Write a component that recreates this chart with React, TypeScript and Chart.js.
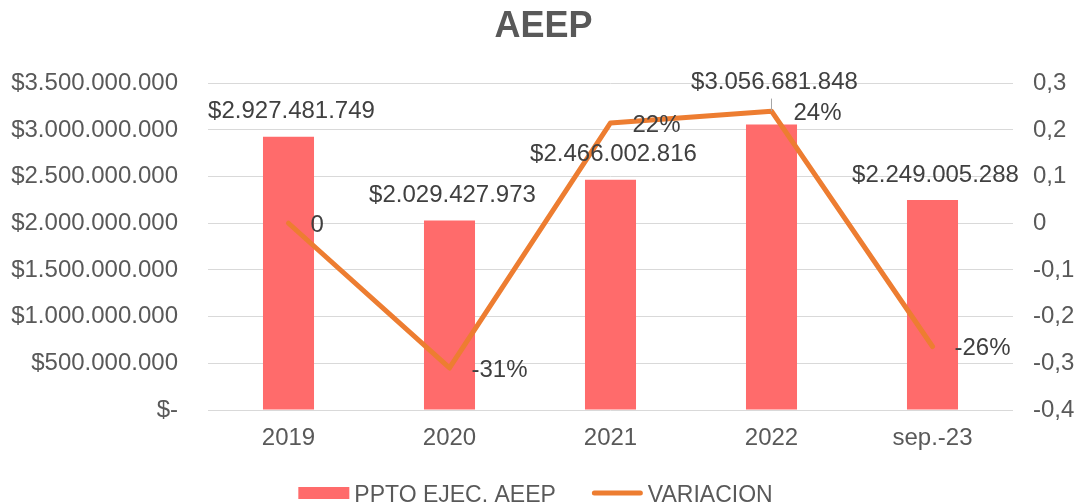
import React, { useEffect, useRef } from "react";
import { Chart, registerables } from "chart.js";

Chart.register(...registerables);

// ---- data ----
const chartTitle = "AEEP";
const categories = ["2019", "2020", "2021", "2022", "sep.-23"];
const seriesNames = ["PPTO EJEC. AEEP", "VARIACION"];
const budgetValues = [2927481749, 2029427973, 2466002816, 3056681848, 2249005288];
const variationValues = [0, -0.31, 0.215, 0.24, -0.264];

// ---- styles ----
const FONT = "'Liberation Sans', Arial, Helvetica, sans-serif";
const FS = 24;
const LEGEND_FS = 23;
const BAR_COLOR = "#FF6B6B";
const LINE_COLOR = "#ED7D31";
const TEXT_COLOR = "#595959";
const LABEL_COLOR = "#404040";
const GRID_COLOR = "#D9D9D9";
const LIFTED_LABEL = { index: 3, extra: 17 };

function groupThousands(n: number): string {
  return Math.round(n).toString().replace(/\B(?=(\d{3})+(?!\d))/g, ".");
}
function money(n: number): string {
  return n === 0 ? "$-" : "$" + groupThousands(n);
}
function decimalComma(v: number): string {
  const r = Math.round(v * 10) / 10;
  return r === 0 ? "0" : r.toFixed(1).replace(".", ",");
}
function pct(v: number): string {
  return v === 0 ? "0" : Math.round(v * 100) + "%";
}

const dataLabelPlugin = {
  id: "dataLabels",
  afterDatasetsDraw(chart: any) {
    const ctx = chart.ctx as CanvasRenderingContext2D;
    const barMeta = chart.getDatasetMeta(0);
    const lineMeta = chart.getDatasetMeta(1);
    ctx.save();
    ctx.font = `${FS}px ${FONT}`;
    ctx.fillStyle = LABEL_COLOR;
    ctx.textBaseline = "middle";
    barMeta.data.forEach((bar: any, i: number) => {
      const lifted = i === LIFTED_LABEL.index;
      const y = bar.y - 25 - (lifted ? LIFTED_LABEL.extra : 0);
      ctx.textAlign = "center";
      ctx.fillText(money(budgetValues[i]), bar.x + 3, y);
      if (lifted) {
        const pt = lineMeta.data[i];
        ctx.strokeStyle = "#A6A6A6";
        ctx.lineWidth = 1;
        ctx.beginPath();
        ctx.moveTo(bar.x, y + 16);
        ctx.lineTo(bar.x, pt.y);
        ctx.stroke();
      }
    });
    lineMeta.data.forEach((pt: any, i: number) => {
      ctx.textAlign = "left";
      ctx.fillText(pct(variationValues[i]), pt.x + 22, pt.y + 2);
    });
    ctx.restore();
  },
};

const legendPlugin = {
  id: "bottomLegend",
  afterDraw(chart: any) {
    const ctx = chart.ctx as CanvasRenderingContext2D;
    ctx.save();
    ctx.font = `${LEGEND_FS}px ${FONT}`;
    const boxW = 51;
    const gapText = 5;
    const gapItems = 36;
    const w0 = ctx.measureText(seriesNames[0]).width;
    const w1 = ctx.measureText(seriesNames[1]).width;
    const total = boxW + gapText + w0 + gapItems + boxW + gapText + w1;
    let x = chart.width / 2 - total / 2 - 8;
    const cy = chart.height - 11;
    const baseline = chart.height - 2;
    ctx.fillStyle = BAR_COLOR;
    ctx.fillRect(x, cy - 6, boxW, 12);
    x += boxW + gapText;
    ctx.fillStyle = TEXT_COLOR;
    ctx.textAlign = "left";
    ctx.textBaseline = "alphabetic";
    ctx.fillText(seriesNames[0], x, baseline);
    x += w0 + gapItems;
    ctx.strokeStyle = LINE_COLOR;
    ctx.lineWidth = 5;
    ctx.lineCap = "round";
    ctx.beginPath();
    ctx.moveTo(x + 2.5, cy);
    ctx.lineTo(x + boxW - 2.5, cy);
    ctx.stroke();
    x += boxW + gapText;
    ctx.fillText(seriesNames[1], x, baseline);
    ctx.restore();
  },
};

export default function App() {
  const ref = useRef<HTMLCanvasElement>(null);
  useEffect(() => {
    const chart = new Chart(ref.current as HTMLCanvasElement, {
      type: "bar",
      data: {
        labels: categories,
        datasets: [
          {
            type: "bar",
            label: seriesNames[0],
            data: budgetValues,
            backgroundColor: BAR_COLOR,
            barPercentage: 0.317,
            categoryPercentage: 1,
            yAxisID: "y",
            order: 1,
          },
          {
            type: "line",
            label: seriesNames[1],
            data: variationValues,
            borderColor: LINE_COLOR,
            backgroundColor: LINE_COLOR,
            borderWidth: 5,
            pointRadius: 0,
            tension: 0,
            borderCapStyle: "round",
            borderJoinStyle: "round",
            yAxisID: "y1",
            order: 0,
          },
        ],
      } as any,
      options: {
        responsive: false,
        animation: false,
        devicePixelRatio: 1,
        layout: { padding: { top: 0, left: 0, right: 0, bottom: 34 } },
        plugins: {
          legend: { display: false },
          tooltip: { enabled: false },
          title: {
            display: true,
            text: chartTitle,
            color: TEXT_COLOR,
            font: { family: FONT, size: 36, weight: "bold" },
            padding: { top: 5, bottom: 35 },
          },
        },
        scales: {
          x: {
            offset: true,
            grid: { display: false, drawTicks: false },
            border: { display: false },
            ticks: { color: TEXT_COLOR, font: { family: FONT, size: FS }, padding: 14 },
            afterFit(scale: any) {
              scale.height = 60;
            },
          },
          y: {
            position: "left",
            min: 0,
            max: 3500000000,
            grid: { color: GRID_COLOR, lineWidth: 1, drawTicks: false },
            border: { display: false },
            ticks: {
              stepSize: 500000000,
              color: TEXT_COLOR,
              font: { family: FONT, size: FS },
              padding: 30,
              callback: (v: any) => money(Number(v)),
            },
            afterFit(scale: any) {
              scale.width = 208;
            },
          },
          y1: {
            position: "right",
            min: -0.4,
            max: 0.3,
            grid: { display: false, drawTicks: false },
            border: { display: false },
            ticks: {
              stepSize: 0.1,
              color: TEXT_COLOR,
              font: { family: FONT, size: FS },
              padding: 20,
              callback: (v: any) => decimalComma(Number(v)),
            },
            afterFit(scale: any) {
              scale.width = 74;
            },
          },
        },
      } as any,
      plugins: [dataLabelPlugin, legendPlugin],
    });
    return () => chart.destroy();
  }, []);
  return (
    <div style={{ position: "absolute", left: 0, top: 0, width: 1087, height: 504, background: "#fff" }}>
      <canvas ref={ref} width={1087} height={504} />
    </div>
  );
}
